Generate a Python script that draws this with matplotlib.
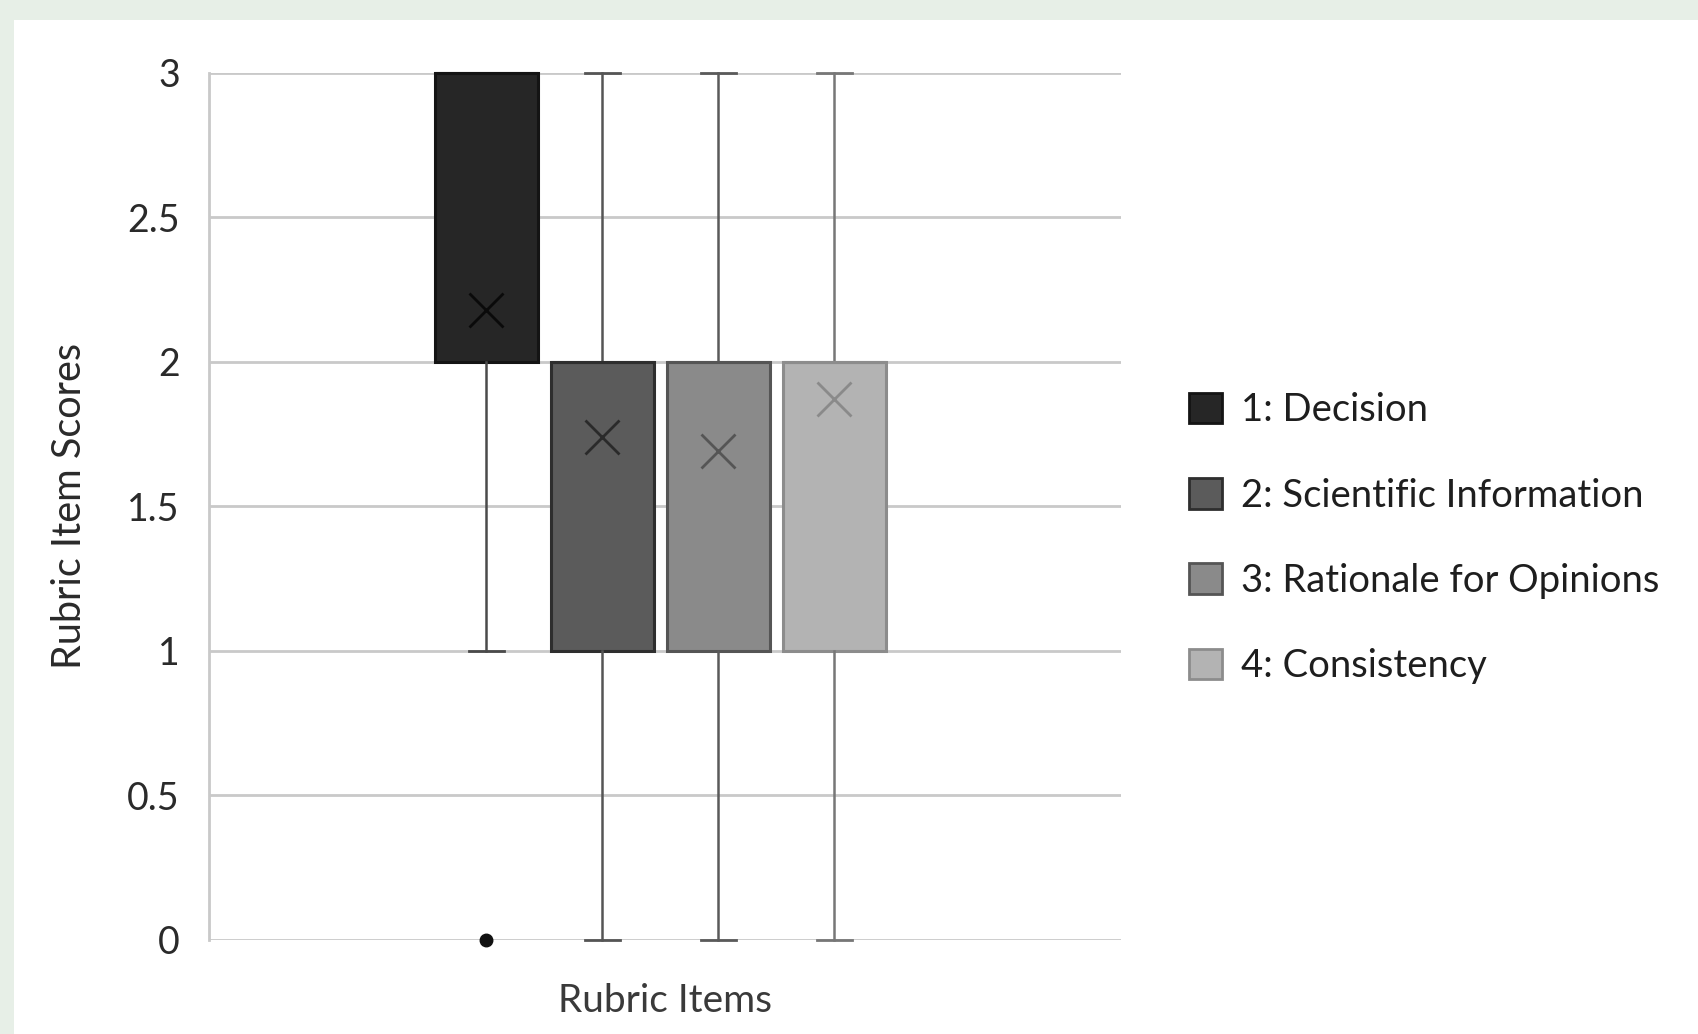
import matplotlib
matplotlib.use("Agg")
import matplotlib.pyplot as plt
from matplotlib.patches import Patch, Rectangle

# ---- data ----
labels = ["1: Decision", "2: Scientific Information", "3: Rationale for Opinions", "4: Consistency"]
q1 = [2, 1, 1, 1]
q3 = [3, 2, 2, 2]
medians = [3, 2, 2, 2]
whisker_low = [1, 0, 0, 0]
whisker_high = [3, 3, 3, 3]
means = [2.18, 1.74, 1.69, 1.87]
outliers = [[0], [], [], []]
yticks = [0, 0.5, 1, 1.5, 2, 2.5, 3]
ytick_labels = ["0", "0.5", "1", "1.5", "2", "2.5", "3"]

# ---- styles ----
face = ["#262626", "#5b5b5b", "#8a8a8a", "#b3b3b3"]
edge = ["#141414", "#2e2e2e", "#555555", "#8c8c8c"]
whisk = ["#4a4a4a", "#555555", "#5a5a5a", "#777777"]
meanc = ["#0a0a0a", "#2a2a2a", "#555555", "#8a8a8a"]
positions = [1, 2, 3, 4]

plt.rcParams['font.family'] = ['Lato', 'DejaVu Sans']

fig = plt.figure(figsize=(16.98, 10.34), dpi=100)
fig.patch.set_facecolor("white")
bg = "#e7efe7"
fig.patches.append(Rectangle((0, 1 - 20 / 1034), 1, 20 / 1034, transform=fig.transFigure,
                             facecolor=bg, edgecolor="none", zorder=0))
fig.patches.append(Rectangle((0, 0), 14 / 1698, 1, transform=fig.transFigure,
                             facecolor=bg, edgecolor="none", zorder=0))

ax = fig.add_axes([209 / 1698, 1 - 940 / 1034, (1121 - 209) / 1698, (940 - 72.6) / 1034])
ax.set_facecolor("none")

stats = []
for i in range(4):
    stats.append(dict(q1=q1[i], q3=q3[i], med=medians[i], whislo=whisker_low[i],
                      whishi=whisker_high[i], mean=means[i], fliers=outliers[i]))

for i in range(4):
    r = ax.bxp([stats[i]], positions=[positions[i]], widths=0.89, patch_artist=True,
               showmeans=True, showfliers=True,
               boxprops=dict(facecolor=face[i], edgecolor=edge[i], linewidth=2.2),
               medianprops=dict(color=edge[i], linewidth=2.2),
               whiskerprops=dict(color=whisk[i], linewidth=1.8),
               capprops=dict(color=whisk[i], linewidth=2.0),
               capwidths=0.30,
               meanprops=dict(marker="x", markersize=24, markeredgewidth=2.0,
                              markeredgecolor=meanc[i], markerfacecolor=meanc[i]),
               flierprops=dict(marker="o", markersize=9, markerfacecolor="#111111",
                               markeredgecolor="#111111"))
    for key in r:
        for art in r[key]:
            art.set_clip_on(False)
            art.set_zorder(3)

ax.set_xlim(-1.39, 6.47)
ax.set_ylim(0, 3)
ax.set_yticks(yticks)
ax.set_yticklabels(ytick_labels, fontsize=27, color="#2a2a2a")
ax.set_xticks([])
ax.tick_params(axis="y", length=0, pad=21)
ax.grid(axis="y", color="#c9c9c9", linewidth=2.0, zorder=0)
ax.set_axisbelow(True)
for s in ["top", "right", "bottom"]:
    ax.spines[s].set_visible(False)
ax.spines["left"].set_color("#c9c9c9")
ax.spines["left"].set_linewidth(2.0)

ax.set_ylabel("Rubric Item Scores", fontsize=28.5, color="#2a2a2a", labelpad=28)
ax.set_xlabel("Rubric Items", fontsize=28, color="#3a3a3a", labelpad=31)

handles = [Patch(facecolor=face[i], edgecolor=edge[i], linewidth=2) for i in range(4)]
fig.legend(handles, labels, loc="upper left", bbox_to_anchor=(1174 / 1698, 1 - 377 / 1034),
           frameon=False, fontsize=27.5, handlelength=0.86, handleheight=0.86,
           handletextpad=0.5, labelspacing=1.29, labelcolor="#1e1e1e", borderaxespad=0)

fig.savefig("out.png", dpi=100, facecolor=fig.get_facecolor())
